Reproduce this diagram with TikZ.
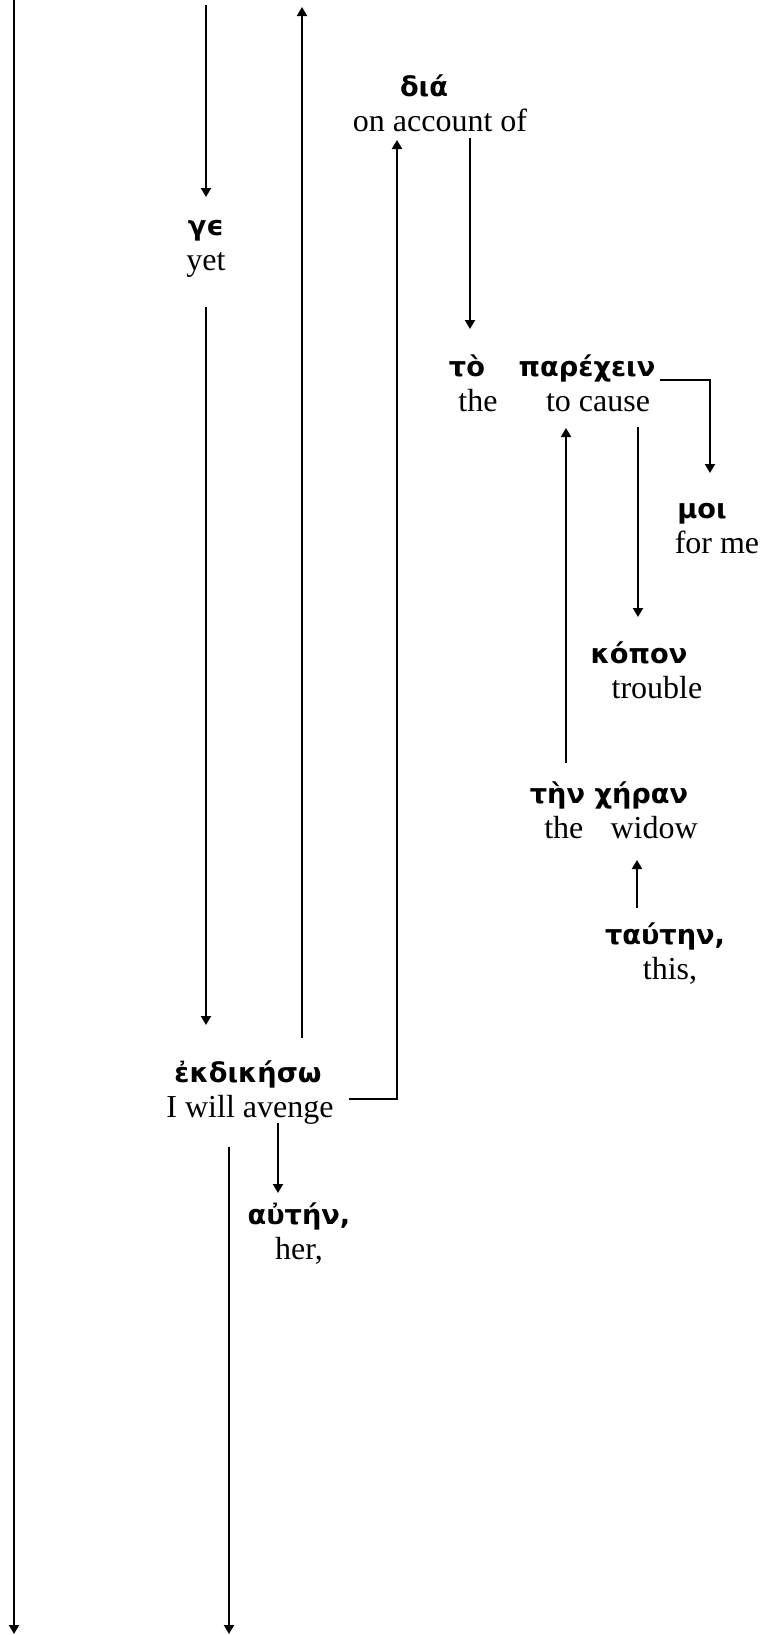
\documentclass[tikz,border=0pt]{standalone}
\usepackage{fontspec}
\setmainfont{Liberation Serif}
\newfontfamily\gkfont{DejaVu Sans}
\usepackage{tikz}
\usetikzlibrary{arrows.meta}
\usetikzlibrary{calc}
\newcommand{\gk}[1]{{\gkfont\bfseries\fontsize{13.6}{17.5}\selectfont #1}}
\tikzstyle{word} = [align=center, inner sep=0pt, font=\fontsize{16}{17.5}\selectfont]
\tikzstyle{arrow} = [line width=1pt, -{Triangle[length=4.5pt,width=5pt]}]

\begin{document}
\begin{tikzpicture}[x=0.5pt, y=-0.5pt]
    \useasboundingbox (0,0) rectangle (762,1635);
    % words
    \node (dia) [word] at (440,103) {\gk{διά}\kern16pt\\on account of};
    \node (ge) [word] at (206,249) {\gk{γϵ}\\yet};
    \node (to) [word] at (478,383) {\gk{τὸ}\kern11pt\\the};
    \node (parechein) [word] at (598,383) {\gk{παρέχειν}\kern11pt\\to cause};
    \node (moi) [word] at (717,529) {\gk{μοι}\kern15pt\\for me};
    \node (kopon) [word] at (657,670) {\gk{κόπον}\kern18pt\\trouble};
    \node (chera) [word] at (621,810) {\gk{τὴν χήραν}\kern12pt\\the\hspace{0.85em}widow};
    \node (tauten) [word] at (670,954) {\gk{ταύτην,}\kern5pt\\this,};
    \node (ekdikeso) [word] at (250,1093) {\gk{ἐκδικήσω}\kern2pt\\I will avenge};
    \node (auten) [word] at (299,1234) {\gk{αὐτήν,}\\her,};
    % loose ends
    \coordinate (lefttop) at (14,0);
    \coordinate (leftend) at (14,1634);
    \coordinate (getop) at (206,5);
    \coordinate (upend) at (302,7);
    \coordinate (downend) at (229,1634);
    % links
    \draw [arrow] (lefttop) -- (leftend);
    \draw [arrow] (getop) -- ($(ge.center)+(0,-52)$);
    \draw [arrow] ($(ge.center)+(0,58)$) -- ($(ekdikeso.center)+(-44,-68)$);
    \draw [arrow] ($(ekdikeso.center)+(52,-55)$) -- (upend);
    \draw [arrow] ($(ekdikeso.center)+(99,6)$) -| ($(dia.center)+(-43,37)$);
    \draw [arrow] ($(dia.center)+(30,35)$) -- ($(to.center)+(-8,-54)$);
    \draw [arrow] ($(parechein.center)+(62,-3)$) -| ($(moi.center)+(-7,-56)$);
    \draw [arrow] ($(parechein.center)+(40,44)$) -- ($(kopon.center)+(-19,-53)$);
    \draw [arrow] ($(chera.center)+(-55,-47)$) -- ($(parechein.center)+(-32,45)$);
    \draw [arrow] ($(tauten.center)+(-33,-46)$) -- ($(chera.center)+(16,50)$);
    \draw [arrow] ($(ekdikeso.center)+(28,30)$) -- ($(auten.center)+(-21,-41)$);
    \draw [arrow] ($(ekdikeso.center)+(-21,54)$) -- (downend);
\end{tikzpicture}
\end{document}
